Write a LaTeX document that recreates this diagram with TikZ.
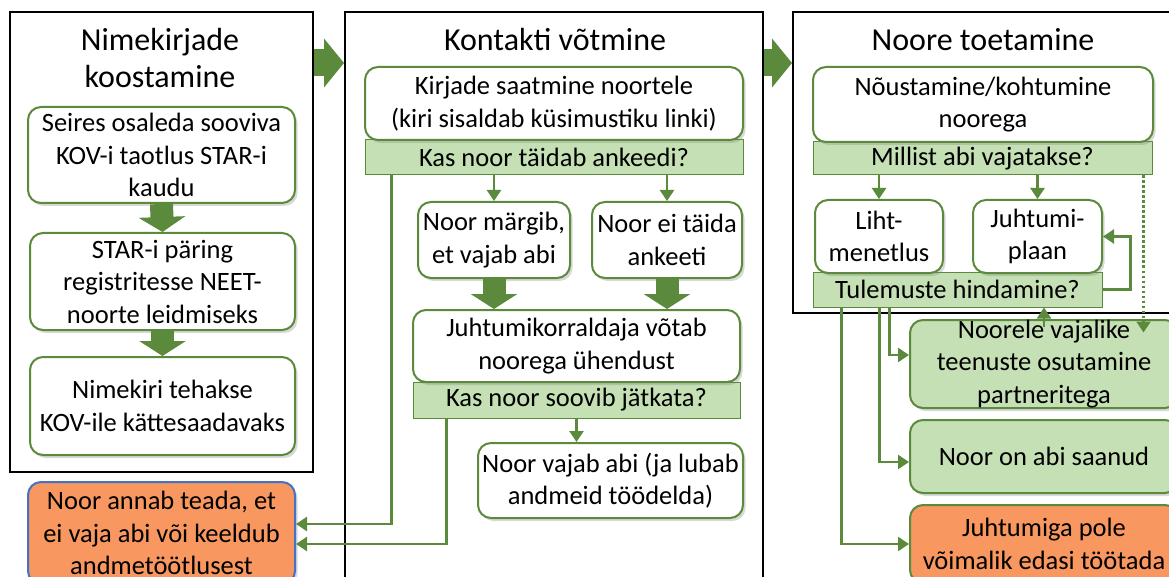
\documentclass[tikz,border=0pt]{standalone}
\usepackage{fontspec}
\setmainfont{Carlito}
\usetikzlibrary{arrows.meta, positioning, calc, shadows}

\definecolor{kgreen}{HTML}{5B8A3C}
\definecolor{lgreen}{HTML}{C5E0B4}
\definecolor{korange}{HTML}{F8975F}
\definecolor{kblue}{HTML}{4472C4}

\tikzset{
  frame/.style={draw=black, line width=2pt},
  titletext/.style={align=center, inner sep=0pt, font=\fontsize{32}{37}\selectfont},
  stepbox/.style={draw=kgreen, line width=2pt, rounded corners=13pt, fill=white,
    align=center, inner sep=0pt, font=\fontsize{26.5}{32.5}\selectfont,
    drop shadow={opacity=0.3, shadow xshift=2.5pt, shadow yshift=-3pt}},
  greenbox/.style={stepbox, fill=lgreen},
  stopbox/.style={stepbox, fill=korange},
  qbar/.style={draw=kgreen, line width=1pt, fill=lgreen, inner sep=0pt,
    font=\fontsize{26.5}{32.5}\selectfont},
  flow/.style={kgreen, line width=2.5pt, -{Triangle[length=11pt, width=14pt]}},
  dotflow/.style={flow, dash pattern=on 2.5pt off 2.5pt},
  blockarrow/.style={kgreen, line width=23pt, -{Triangle[length=15pt, width=46pt]}},
  bigarrow/.style={kgreen, line width=27pt, -{Triangle[length=20pt, width=48pt]}}
}

\begin{document}
\begin{tikzpicture}[x=1pt, y=-1pt]
  \useasboundingbox (0,0) rectangle (1169,577);
  \clip (0,0) rectangle (1169,577);

  % frames
  \node[frame, minimum width=303pt, minimum height=460pt] (f1) at (161.5,242) {};
  \node[frame, minimum width=418pt, minimum height=600pt] (f2) at (554,312) {};
  \node[frame, minimum width=400pt, minimum height=301pt] (f3) at (993,162.5) {};
  \draw[bigarrow] ([yshift=-52pt]f1.north east) -- ([yshift=-52pt]f2.north west);
  \draw[bigarrow] ([yshift=-52pt]f2.north east) -- ([yshift=-52pt]f3.north west);

  % Nimekirjade koostamine
  \node[titletext] (t1) at (160,58.5) {Nimekirjade\\koostamine};
  \node[stepbox, minimum width=267pt, minimum height=96pt] (a1) at (161.5,155)
    {Seires osaleda sooviva\\KOV-i taotlus STAR-i\\kaudu};
  \node[stepbox, minimum width=265pt, minimum height=97pt] (a2) at (162.5,281.5)
    {STAR-i päring\\registritesse NEET-\\noorte leidmiseks};
  \node[stepbox, minimum width=265pt, minimum height=98pt] (a3) at (162.5,406)
    {Nimekiri tehakse\\KOV-ile kättesaadavaks};
  \node[stopbox, draw=kblue, minimum width=267pt, minimum height=102pt] (o1) at (161.5,533)
    {Noor annab teada, et\\ei vaja abi või keeldub\\andmetöötlusest};
  \draw[blockarrow] (a1.south) -- (a2.north);
  \draw[blockarrow] (a2.south) -- (a3.north);

  % Kontakti võtmine
  \node[titletext] (t2) at (555,40) {Kontakti võtmine};
  \node[qbar, minimum width=378pt, minimum height=35pt] (q1) at (554,157.5)
    {Kas noor täidab ankeedi?};
  \node[stepbox, minimum width=378pt, minimum height=73pt] (b1) at (554,103.5)
    {Kirjade saatmine noortele\\(kiri sisaldab küsimustiku linki)};
  \node[stepbox, minimum width=152pt, minimum height=76pt] (b2) at (494,240)
    {Noor märgib,\\et vajab abi};
  \node[stepbox, minimum width=150pt, minimum height=76pt] (b3) at (667,240)
    {Noor ei täida\\ankeeti};
  \node[qbar, minimum width=327pt, minimum height=36pt] (q2) at (576.5,400)
    {Kas noor soovib jätkata?};
  \node[stepbox, minimum width=327pt, minimum height=72pt] (b4) at (576.5,346)
    {Juhtumikorraldaja võtab\\noorega ühendust};
  \node[stepbox, minimum width=265pt, minimum height=75pt] (b5) at (610.5,480.5)
    {Noor vajab abi (ja lubab\\andmeid töödelda)};
  \draw[flow] (b2.north |- q1.south) -- (b2.north);
  \draw[flow] (b3.north |- q1.south) -- (b3.north);
  \draw[blockarrow] (b2.south) -- (b2.south |- b4.north);
  \draw[blockarrow] (b3.south) -- (b3.south |- b4.north);
  \draw[flow] (q2.south) -- (q2.south |- b5.north);
  \draw[flow] ([xshift=27pt]q1.south west) |- ([yshift=9pt]o1.east);
  \draw[flow] ([xshift=34pt]q2.south west) |- ([yshift=-11pt]o1.east);

  % Noore toetamine
  \node[titletext] (t3) at (983,40) {Noore toetamine};
  \node[qbar, minimum width=339pt, minimum height=33pt] (q3) at (982.5,158.5)
    {Millist abi vajatakse?};
  \node[stepbox, minimum width=340pt, minimum height=75pt] (c1) at (983,104.5)
    {Nõustamine/kohtumine\\noorega};
  \node[qbar, minimum width=289pt, minimum height=35pt] (q4) at (957.5,289.5)
    {Tulemuste hindamine?};
  \node[stepbox, minimum width=128pt, minimum height=73pt] (c2) at (879,236.5)
    {Liht-\\menetlus};
  \node[stepbox, minimum width=129pt, minimum height=73pt] (c3) at (1037.5,236.5)
    {Juhtumi-\\plaan};
  \node[greenbox, minimum width=268pt, minimum height=88pt] (c4) at (1044,364)
    {Noorele vajalike\\teenuste osutamine\\partneritega};
  \node[greenbox, minimum width=268pt, minimum height=73pt] (c5) at (1044,456.5)
    {Noor on abi saanud};
  \node[stopbox, minimum width=268pt, minimum height=78pt] (c6) at (1044,544)
    {Juhtumiga pole\\võimalik edasi töötada};
  \draw[flow] (c2.north |- q3.south) -- (c2.north);
  \draw[flow] (c3.north |- q3.south) -- (c3.north);
  \draw[flow] (q4.east) -- ++(28,0) |- (c3.east);
  \draw[dotflow] ([xshift=-9pt]q3.south east) -- ++(0,157);
  \draw[flow] ([yshift=-8pt]c4.north) -- (c4.north |- q4.south);
  \draw[flow] ([xshift=77pt]q4.south west) |- ([yshift=9pt]c4.west);
  \draw[flow] ([xshift=67pt]q4.south west) |- ([yshift=-5.5pt]c5.west);
  \draw[flow] ([xshift=29pt]q4.south west) |- (c6.west);
\end{tikzpicture}
\end{document}
